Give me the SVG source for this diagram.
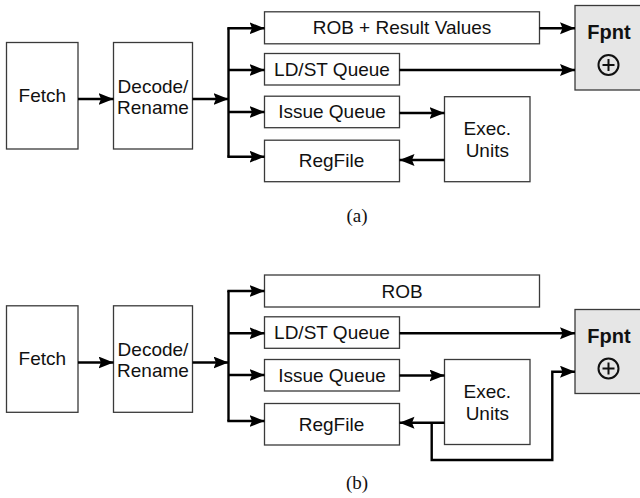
<svg xmlns="http://www.w3.org/2000/svg" width="640" height="498" viewBox="0 0 640 498">
  <defs>
    <marker id="arrow" markerUnits="userSpaceOnUse" markerWidth="16" markerHeight="13" refX="15" refY="6" orient="auto">
      <path d="M0,0 L15,6 L0,12 L2.5,6 Z" fill="#000"/>
    </marker>
  </defs>
  <style>
    .box { fill: #fff; stroke: #3a3a3a; stroke-width: 1.3; }
    .fp { fill: #e6e6e6; stroke: #3a3a3a; stroke-width: 1.3; }
    .lbl { font-family: "Liberation Sans", Arial, sans-serif; font-size: 19px; fill: #111; text-anchor: middle; }
    .bold { font-family: "Liberation Sans", Arial, sans-serif; font-size: 20px; font-weight: bold; fill: #111; text-anchor: middle; }
    .cap { font-family: "Liberation Serif", "Times New Roman", serif; font-size: 19px; fill: #111; text-anchor: middle; }
    .wire { fill: none; stroke: #000; stroke-width: 2.4; }
    .arr { fill: none; stroke: #000; stroke-width: 2.4; marker-end: url(#arrow); }
    .sym { fill: none; stroke: #111; stroke-width: 2; }
  </style>

  <!-- Panel (a) -->
  <g id="a-fetch"><rect class="box" x="6.5" y="42.5" width="71.5" height="106.5"/><text class="lbl" x="42.3" y="101.7">Fetch</text></g>
  <g id="a-decode"><rect class="box" x="113.5" y="42.5" width="79" height="106.5"/><text class="lbl" x="153" y="92.7">Decode/</text><text class="lbl" x="153" y="113.5">Rename</text></g>
  <g id="a-rob"><rect class="box" x="264.5" y="11.8" width="275" height="32"/><text class="lbl" x="402" y="34.3">ROB + Result Values</text></g>
  <g id="a-ldst"><rect class="box" x="264.5" y="53.5" width="135" height="31.5"/><text class="lbl" x="332" y="75.7">LD/ST Queue</text></g>
  <g id="a-issue"><rect class="box" x="264.5" y="96.2" width="135" height="31.5"/><text class="lbl" x="332" y="118.4">Issue Queue</text></g>
  <g id="a-regfile"><rect class="box" x="264.5" y="140.2" width="135" height="41.5"/><text class="lbl" x="331.5" y="167.3">RegFile</text></g>
  <g id="a-exec"><rect class="box" x="444.5" y="96.7" width="85.5" height="85"/><text class="lbl" x="487.3" y="135">Exec.</text><text class="lbl" x="487.3" y="156.7">Units</text></g>
  <g id="a-fpnt"><rect class="fp" x="575" y="5.5" width="70" height="84.5"/><text class="bold" x="609" y="39.3">Fpnt</text>
    <circle class="sym" cx="608.5" cy="65" r="10"/><path class="sym" d="M602.5,65 H614.5 M608.5,59 V71"/></g>

  <g id="a-connectors">
    <line class="arr" x1="78" y1="99" x2="113.5" y2="99"/>
    <line class="arr" x1="192.5" y1="99" x2="228.5" y2="99"/>
    <path class="wire" d="M228.5,28.3 V156.7"/>
    <line class="arr" x1="227.3" y1="28.3" x2="264.5" y2="28.3"/>
    <line class="arr" x1="228.5" y1="70" x2="264.5" y2="70"/>
    <line class="arr" x1="228.5" y1="112" x2="264.5" y2="112"/>
    <line class="arr" x1="227.3" y1="156.7" x2="264.5" y2="156.7"/>
    <line class="arr" x1="539.5" y1="28.3" x2="575" y2="28.3"/>
    <line class="arr" x1="399.5" y1="70" x2="575" y2="70"/>
    <line class="arr" x1="399.5" y1="113" x2="444.5" y2="113"/>
    <line class="arr" x1="444.5" y1="160" x2="399.5" y2="160"/>
  </g>
  <text class="cap" x="357" y="222">(a)</text>

  <!-- Panel (b) -->
  <g id="b-fetch"><rect class="box" x="6.5" y="305.8" width="71.5" height="106.5"/><text class="lbl" x="42.3" y="365">Fetch</text></g>
  <g id="b-decode"><rect class="box" x="113.5" y="305.8" width="79" height="106.5"/><text class="lbl" x="153" y="356">Decode/</text><text class="lbl" x="153" y="376.8">Rename</text></g>
  <g id="b-rob"><rect class="box" x="264.5" y="275" width="275" height="32"/><text class="lbl" x="402" y="297.5">ROB</text></g>
  <g id="b-ldst"><rect class="box" x="264.5" y="316.8" width="135" height="31.5"/><text class="lbl" x="332" y="339">LD/ST Queue</text></g>
  <g id="b-issue"><rect class="box" x="264.5" y="359.5" width="135" height="31.5"/><text class="lbl" x="332" y="381.7">Issue Queue</text></g>
  <g id="b-regfile"><rect class="box" x="264.5" y="403.5" width="135" height="41.5"/><text class="lbl" x="331.5" y="430.6">RegFile</text></g>
  <g id="b-exec"><rect class="box" x="444.5" y="359.5" width="85.5" height="85"/><text class="lbl" x="487.3" y="398">Exec.</text><text class="lbl" x="487.3" y="419.7">Units</text></g>
  <g id="b-fpnt"><rect class="fp" x="575" y="309.5" width="70" height="84"/><text class="bold" x="609" y="343.3">Fpnt</text>
    <circle class="sym" cx="608.5" cy="368.5" r="10"/><path class="sym" d="M602.5,368.5 H614.5 M608.5,362.5 V374.5"/></g>

  <g id="b-connectors">
    <line class="arr" x1="78" y1="362.5" x2="113.5" y2="362.5"/>
    <line class="arr" x1="192.5" y1="362.5" x2="228.5" y2="362.5"/>
    <path class="wire" d="M228.5,291 V421"/>
    <line class="arr" x1="227.3" y1="291" x2="264.5" y2="291"/>
    <line class="arr" x1="228.5" y1="333.3" x2="264.5" y2="333.3"/>
    <line class="arr" x1="228.5" y1="375" x2="264.5" y2="375"/>
    <line class="arr" x1="227.3" y1="421" x2="264.5" y2="421"/>
    <line class="arr" x1="399.5" y1="333.3" x2="575" y2="333.3"/>
    <line class="arr" x1="399.5" y1="375.5" x2="444.5" y2="375.5"/>
    <line class="arr" x1="444.5" y1="422.7" x2="399.5" y2="422.7"/>
    <path class="arr" d="M431.7,422.7 V460 H552.3 V371.7 H575"/>
  </g>
  <text class="cap" x="357" y="488.5">(b)</text>
</svg>
